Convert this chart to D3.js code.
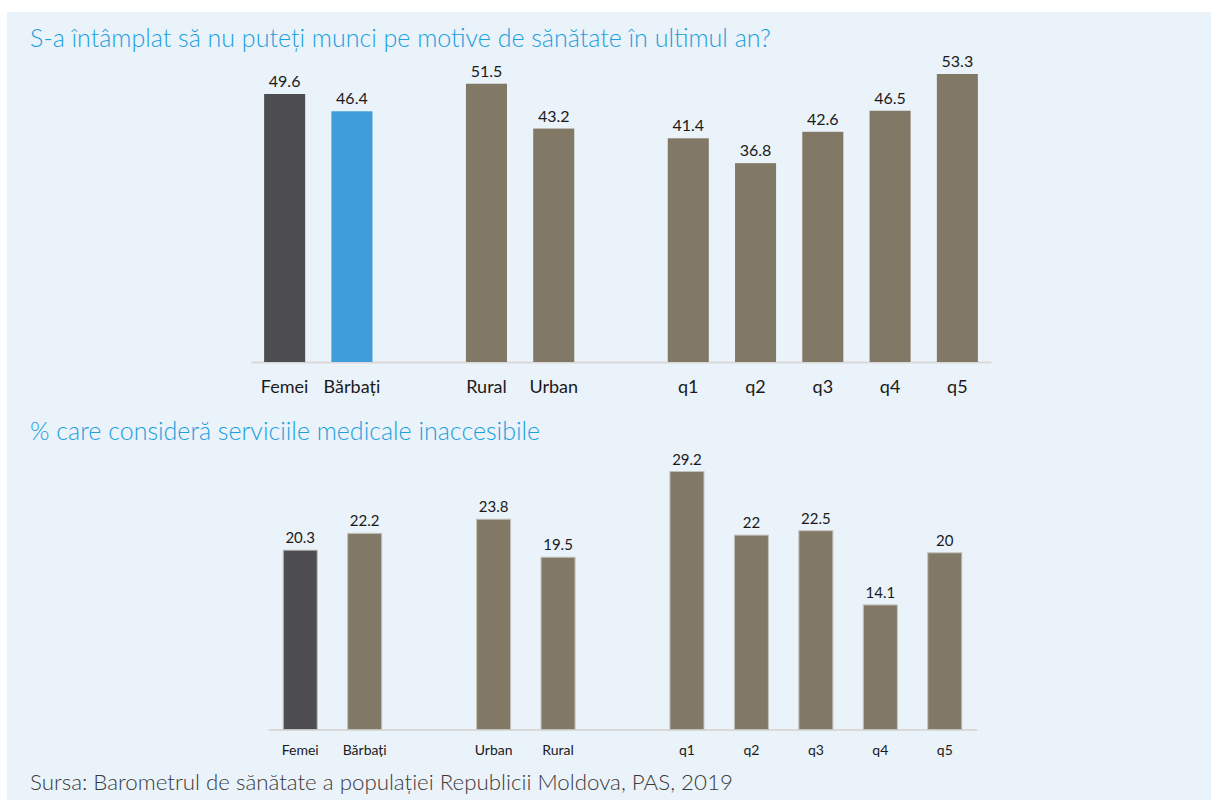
<!DOCTYPE html>
<html>
<head>
<meta charset="utf-8">
<script src="https://cdn.jsdelivr.net/npm/d3@7"></script>
<style>
  html, body { margin: 0; padding: 0; background: #ffffff; }
  svg { display: block; }
</style>
</head>
<body>
<svg id="chart" width="1211" height="800"></svg>
<script>
// ---- Data ----
const title1 = "S-a întâmplat să nu puteți munci pe motive de sănătate în ultimul an?";
const title2 = "% care consideră serviciile medicale inaccesibile";
const sourceText = "Sursa: Barometrul de sănătate a populației Republicii Moldova, PAS, 2019";

const top_categories = ["Femei", "Bărbați", "Rural", "Urban", "q1", "q2", "q3", "q4", "q5"];
const top_groups     = [0, 0, 1, 1, 2, 2, 2, 2, 2];
const top_values     = [49.6, 46.4, 51.5, 43.2, 41.4, 36.8, 42.6, 46.5, 53.3];
const top_labels     = ["49.6", "46.4", "51.5", "43.2", "41.4", "36.8", "42.6", "46.5", "53.3"];

const bottom_categories = ["Femei", "Bărbați", "Urban", "Rural", "q1", "q2", "q3", "q4", "q5"];
const bottom_groups     = [0, 0, 1, 1, 2, 2, 2, 2, 2];
const bottom_values     = [20.3, 22.2, 23.8, 19.5, 29.2, 22, 22.5, 14.1, 20];
const bottom_labels     = ["20.3", "22.2", "23.8", "19.5", "29.2", "22", "22.5", "14.1", "20"];

// ---- Styles ----
const COL_DARK = "#4d4d4f";
const COL_BLUE = "#3f9ddb";
const COL_BROWN = "#827866";
const top_colors = [COL_DARK, COL_BLUE, COL_BROWN, COL_BROWN, COL_BROWN, COL_BROWN, COL_BROWN, COL_BROWN, COL_BROWN];
const bottom_colors = [COL_DARK, COL_BROWN, COL_BROWN, COL_BROWN, COL_BROWN, COL_BROWN, COL_BROWN, COL_BROWN, COL_BROWN];
const FONT = "Lato, 'Open Sans', sans-serif";

const svg = d3.select("#chart");

// panel background
svg.append("rect").attr("x", 7).attr("y", 12).attr("width", 1204).attr("height", 788).attr("fill", "#eaf2fa");

// build slot domain with gap slots between groups
function slots(cats, groups) {
  const out = [];
  cats.forEach((c, i) => {
    if (i > 0 && groups[i] !== groups[i - 1]) out.push("__gap" + i);
    out.push(c);
  });
  return out;
}

function drawPanel(cfg) {
  const dom = slots(cfg.cats, cfg.groups);
  const x = d3.scaleBand().domain(dom).range([cfg.x0, cfg.x1])
    .paddingInner(cfg.pad).paddingOuter(cfg.pad / 2);
  const y = d3.scaleLinear().domain([0, cfg.refVal]).range([cfg.base, cfg.refY]);
  const g = svg.append("g");

  // axis line + category labels
  const axis = d3.axisBottom(x).tickSize(0).tickPadding(cfg.tickPad)
    .tickFormat(d => d.startsWith("__gap") ? "" : d);
  const ax = g.append("g").attr("transform", `translate(0,${cfg.base})`).call(axis);
  ax.select(".domain").attr("stroke", "#d9d9d9").attr("stroke-width", 2);
  ax.selectAll("text").attr("font-family", FONT).attr("font-size", cfg.catSize).attr("fill", "#1a1a1a");

  const data = cfg.cats.map((c, i) => ({ c, v: cfg.vals[i], l: cfg.labels[i], col: cfg.colors[i] }));
  g.selectAll("rect.bar").data(data).enter().append("rect")
    .attr("class", "bar")
    .attr("x", d => x(d.c))
    .attr("width", x.bandwidth())
    .attr("y", d => y(d.v))
    .attr("height", d => cfg.base - y(d.v))
    .attr("fill", d => d.col)
    .attr("stroke", cfg.stroke || "none")
    .attr("stroke-width", cfg.stroke ? 1 : 0);

  g.selectAll("text.val").data(data).enter().append("text")
    .attr("class", "val")
    .attr("x", d => x(d.c) + x.bandwidth() / 2)
    .attr("y", d => y(d.v) - cfg.valGap)
    .attr("text-anchor", "middle")
    .attr("font-family", FONT)
    .attr("font-size", cfg.valSize)
    .attr("fill", "#1a1a1a")
    .text(d => d.l);
}

drawPanel({
  cats: top_categories, groups: top_groups, vals: top_values, labels: top_labels, colors: top_colors,
  x0: 251, x1: 991, pad: 0.39, base: 362, refVal: 53.3, refY: 74,
  tickPad: 18, catSize: 18, valSize: 16, valGap: 7
});

drawPanel({
  cats: bottom_categories, groups: bottom_groups, vals: bottom_values, labels: bottom_labels, colors: bottom_colors,
  x0: 268, x1: 977, pad: 0.472, base: 729.5, refVal: 29.2, refY: 471.5,
  tickPad: 16, catSize: 14, valSize: 15, valGap: 7, stroke: "#c4c2bc"
});

// titles & source
svg.append("text").attr("x", 30).attr("y", 47).attr("font-family", FONT).attr("font-size", 25)
  .attr("font-weight", 300).attr("fill", "#1ba0dd").text(title1);
svg.append("text").attr("x", 30).attr("y", 440).attr("font-family", FONT).attr("font-size", 25)
  .attr("font-weight", 300).attr("fill", "#1ba0dd").text(title2);
svg.append("text").attr("x", 30).attr("y", 790).attr("font-family", FONT).attr("font-size", 22.3)
  .attr("font-weight", 300).attr("fill", "#3a3a3a").text(sourceText);
</script>
</body>
</html>
